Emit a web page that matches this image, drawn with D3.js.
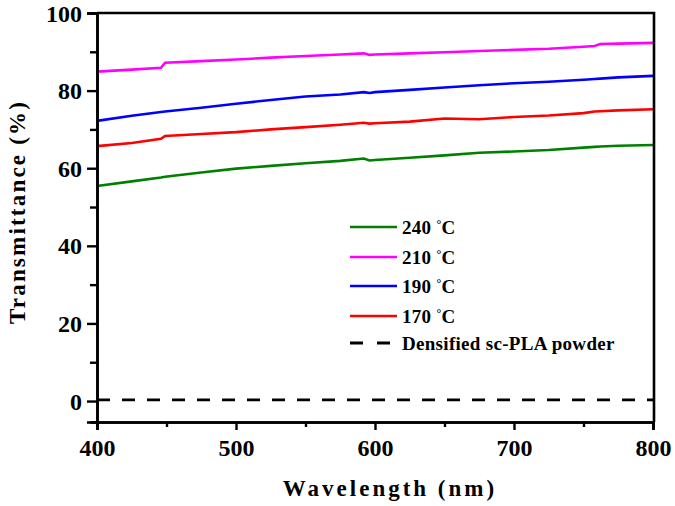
<!DOCTYPE html>
<html><head><meta charset="utf-8">
<script src="https://cdn.jsdelivr.net/npm/d3@7"></script>
<style>body{margin:0;background:#fff}svg{display:block}</style>
</head><body>
<svg id="c" width="675" height="506"></svg>
<script>
const wavelengths = [400,425,446,449,475,500,525,550,575,592,596,600,625,650,675,700,725,750,758,762,775,800];
const t240 = [55.4,56.6,57.6,57.8,58.9,59.9,60.6,61.3,61.9,62.5,62.0,62.1,62.7,63.3,64.0,64.3,64.7,65.3,65.5,65.6,65.8,66.0];
const t210 = [84.9,85.4,85.9,87.2,87.6,88.0,88.5,88.9,89.3,89.6,89.2,89.3,89.6,89.9,90.2,90.5,90.8,91.3,91.5,92.0,92.1,92.3];
const t190 = [72.2,73.5,74.5,74.6,75.6,76.6,77.6,78.5,79.0,79.6,79.4,79.6,80.2,80.8,81.4,81.9,82.3,82.8,83.0,83.1,83.4,83.8];
const t170 = [65.7,66.5,67.6,68.3,68.8,69.3,70.0,70.6,71.2,71.7,71.5,71.6,72.0,72.8,72.6,73.2,73.6,74.2,74.6,74.7,74.9,75.2];
const tPowder = [0.3,0.3,0.3,0.3,0.3,0.3,0.3,0.3,0.3,0.3,0.3,0.3,0.3,0.3,0.3,0.3,0.3,0.3,0.3,0.3,0.3,0.3];
const seriesNames = ["240", "210", "190", "170", "Densified sc-PLA powder"];
const seriesColors = ["#008000", "#ff00ff", "#0000ff", "#ff0000", "#000000"];
const xTicks = [400,500,600,700,800];
const yTicks = [0,20,40,60,80,100];

const series = [t240, t210, t190, t170, tPowder];
const svg = d3.select("#c");
const font = "'Liberation Serif','Times New Roman',serif";
const L = 97, R = 654, T = 13, B = 422;
const x = d3.scaleLinear().domain([400,800]).range([L,R-1]);
const y = d3.scaleLinear().domain([-5.4,100]).range([B,T]);

// lines
const line = d3.line().x((d,i)=>x(wavelengths[i])).y(d=>y(d));
series.forEach((s,k)=>{
  svg.append("path").datum(s).attr("d", line)
    .attr("fill","none").attr("stroke", seriesColors[k])
    .attr("stroke-width", k===4 ? 2.8 : 2.6)
    .attr("stroke-dasharray", k===4 ? "13,12" : null);
});

// frame
svg.append("path").attr("d", `M${L},${T}H${R}V${B}`).attr("fill","none").attr("stroke","#000").attr("stroke-width",2.6);

// axes
const xAxis = svg.append("g").attr("transform",`translate(0,${B})`)
  .call(d3.axisBottom(x).tickValues(xTicks).tickSize(8).tickPadding(9).tickFormat(d3.format("d")));
const xMinor = svg.append("g").attr("transform",`translate(0,${B})`)
  .call(d3.axisBottom(x).tickValues([450,550,650,750]).tickSize(5).tickFormat(""));
const yAxis = svg.append("g").attr("transform",`translate(${L},0)`)
  .call(d3.axisLeft(y).tickValues(yTicks).tickSize(10).tickPadding(5).tickFormat(d3.format("d")));
const yMinor = svg.append("g").attr("transform",`translate(${L},0)`)
  .call(d3.axisLeft(y).tickValues([10,30,50,70,90]).tickSize(7).tickFormat(""));
[xAxis,xMinor,yAxis,yMinor].forEach(g=>{
  g.select(".domain").attr("stroke","#000").attr("stroke-width",2.6);
  g.selectAll(".tick line").attr("stroke","#000").attr("stroke-width",2.4);
  g.selectAll("text").attr("font-family",font).attr("font-weight","bold").attr("font-size","24px").attr("fill","#000");
});
yAxis.selectAll("text").attr("dy","0.34em");

// axis titles
svg.append("text").attr("x",390).attr("y",496).attr("text-anchor","middle")
  .attr("font-family",font).attr("font-weight","bold").attr("font-size","23px").attr("letter-spacing","3px")
  .text("Wavelength (nm)");
svg.append("text").attr("transform","translate(25,212) rotate(-90)").attr("text-anchor","middle")
  .attr("font-family",font).attr("font-weight","bold").attr("font-size","23px").attr("letter-spacing","2.2px")
  .text("Transmittance (%)");

// legend
const legY = [227,257,286,316,343];
seriesNames.forEach((n,k)=>{
  svg.append("line").attr("x1",350).attr("x2",397).attr("y1",legY[k]).attr("y2",legY[k])
    .attr("stroke",seriesColors[k]).attr("stroke-width",k===4?2.8:2.6)
    .attr("stroke-dasharray", k===4 ? "13,14" : null);
  const t = svg.append("text").attr("x",402).attr("y",legY[k]+6.5)
    .attr("font-family",font).attr("font-weight","bold").attr("font-size","19px").attr("letter-spacing","0.3px");
  if (k<4) {
    t.append("tspan").text(n+" ");
    t.append("tspan").attr("font-size","12px").attr("dy",-6).text("°");
    t.append("tspan").attr("dy",6).text("C");
  } else t.text(n);
});
</script>
</body></html>
